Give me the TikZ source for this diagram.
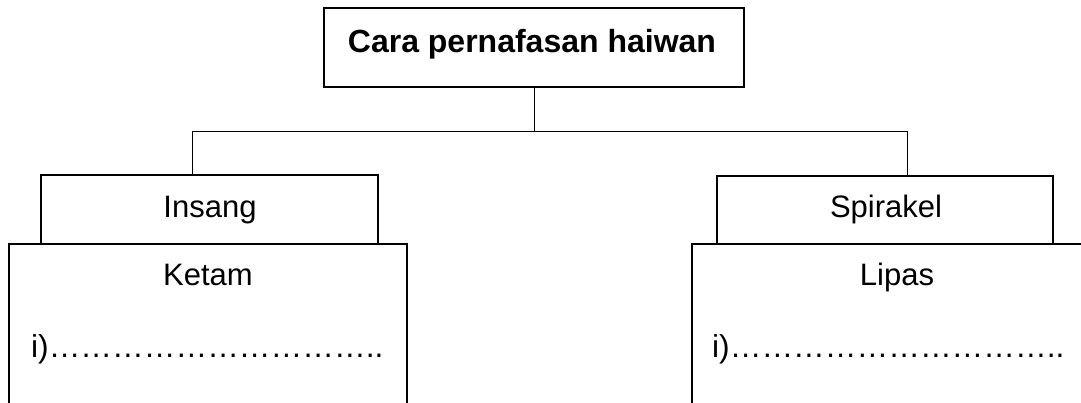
\documentclass[tikz,border=0pt]{standalone}
\usepackage{fontspec}
\setmainfont{Liberation Sans}
\newcommand\myell{\char"2026\relax}
\newcommand\myfive{\myell\myell\myell\myell\myell}
\begin{document}
\begin{tikzpicture}[x=1pt,y=-1pt,
  box/.style={draw,line width=1.5pt,inner sep=0pt,outer sep=0pt},
  conn/.style={line width=0.8pt},
  lbl/.style={anchor=base,inner sep=0pt,font=\fontsize{31}{37}\selectfont},
  dots/.style={anchor=base west,inner sep=0pt,font=\fontsize{31.7}{37}\selectfont}]
\useasboundingbox (0,0) rectangle (1081,403);
\clip (0,0) rectangle (1081,403);
% boxes
\node[box, minimum width=420pt, minimum height=79pt] (top) at (534,47.5) {};
\node[box, minimum width=337pt, minimum height=69pt] (ins) at (209.5,209.5) {};
\node[box, minimum width=336pt, minimum height=68pt] (spi) at (885,210) {};
\node[box, minimum width=398pt, minimum height=186pt] (ket) at (208,337) {};
\node[box, minimum width=408pt, minimum height=186pt] (lip) at (896,337) {};
% texts
\node[lbl, font=\fontsize{32}{38}\selectfont\bfseries] (toptxt) at (532,53) {Cara pernafasan haiwan};
\node[lbl] (instxt) at (210,218) {Insang};
\node[lbl] (spitxt) at (886,218) {Spirakel};
\node[lbl] (kettxt) at (208,285) {Ketam};
\node[lbl] (liptxt) at (897,285) {Lipas};
\node[dots] (ketdots) at (31,357) {i)\myfive\myfive..};
\node[dots] (lipdots) at (712,357) {i)\myfive\myfive..};
% connectors
\coordinate (j) at (top.south |- 0,131);
\coordinate (jl) at (192,131);
\coordinate (jr) at (907,131);
\draw[conn] (top.south) -- (j);
\draw[conn] (jl) -- (jr);
\draw[conn] (jl) -- (jl |- ins.north);
\draw[conn] (jr) -- (jr |- spi.north);
\end{tikzpicture}
\end{document}
